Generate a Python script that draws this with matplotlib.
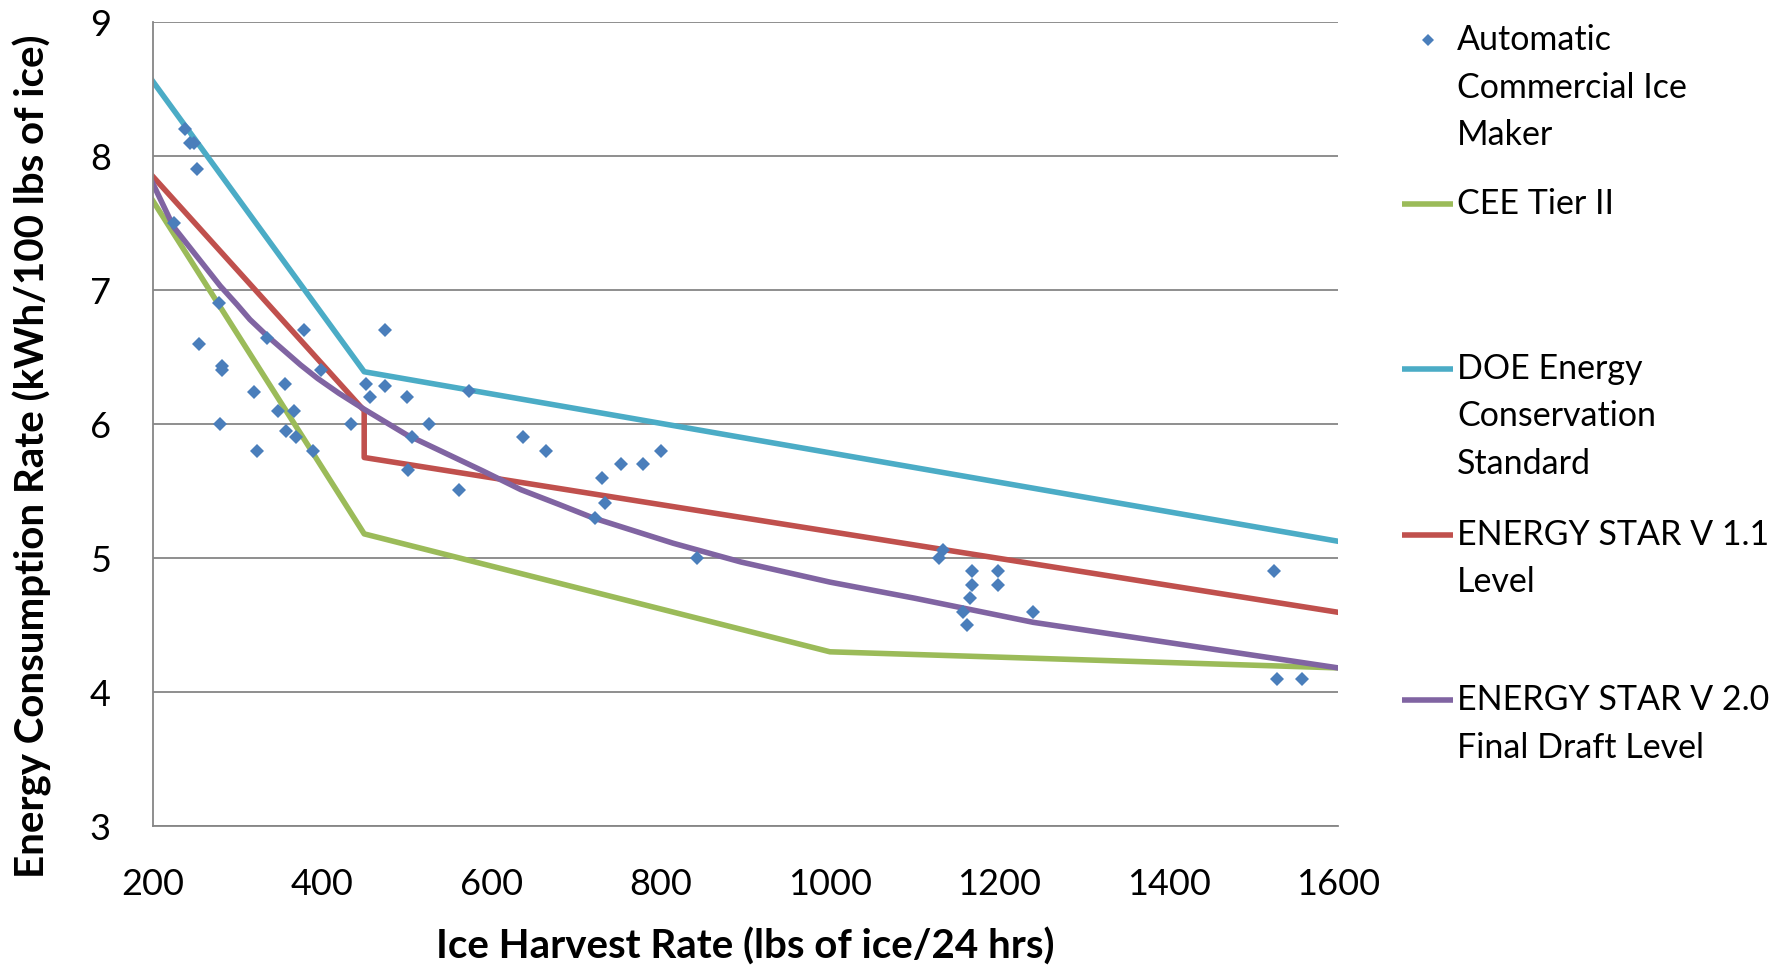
import matplotlib
matplotlib.use("Agg")
import matplotlib.pyplot as plt
from matplotlib.lines import Line2D

plt.rcParams['font.family'] = ['Lato', 'DejaVu Sans']

# puntos de maquinas de hielo (lbs/24h, kWh/100 lbs)
maq_x = [238, 244, 249, 253, 225, 278, 255, 282, 282, 280, 320, 323, 335, 356,
         348, 367, 358, 370, 379, 390, 399, 434, 452, 457, 475, 475, 500, 506,
         502, 527, 562, 574, 638, 665, 731, 734, 723, 753, 779, 800, 843,
         1129, 1134, 1168, 1168, 1198, 1198, 1165, 1157, 1162, 1240, 1525, 1528, 1558]
maq_y = [8.2, 8.1, 8.1, 7.9, 7.5, 6.9, 6.6, 6.43, 6.4, 6.0, 6.24, 5.8, 6.64, 6.3,
         6.1, 6.1, 5.95, 5.9, 6.7, 5.8, 6.4, 6.0, 6.3, 6.2, 6.7, 6.28, 6.2, 5.9,
         5.66, 6.0, 5.51, 6.25, 5.9, 5.8, 5.6, 5.41, 5.3, 5.7, 5.7, 5.8, 5.0,
         5.0, 5.06, 4.9, 4.8, 4.9, 4.8, 4.7, 4.6, 4.5, 4.6, 4.9, 4.1, 4.1]

# CEE Tier II
cee_x = [200, 450, 1000, 1600]
cee_y = [7.67, 5.18, 4.30, 4.18]

# DOE
doe_x = [200, 450, 1600]
doe_y = [8.56, 6.39, 5.125]

# ENERGY STAR V 1.1
es11_x = [200, 450, 450, 1600]
es11_y = [7.85, 6.10, 5.75, 4.595]

# ENERGY STAR V 2.0 (curva)
es20_x = [200, 225, 250, 265, 280, 300, 315, 335, 355, 375, 395, 420, 440, 450,
          500, 540, 590, 635, 680, 720, 770, 815, 895, 1000, 1100, 1240, 1600]
es20_y = [7.80, 7.47, 7.27, 7.15, 7.03, 6.89, 6.78, 6.66, 6.55, 6.44, 6.34, 6.23,
          6.15, 6.11, 5.92, 5.80, 5.65, 5.51, 5.40, 5.30, 5.20, 5.11, 4.97, 4.82,
          4.70, 4.52, 4.18]

xticks = [200, 400, 600, 800, 1000, 1200, 1400, 1600]
yticks = [3, 4, 5, 6, 7, 8, 9]

azul = '#4A7EBB'
verde = '#9BBB59'
cian = '#4BACC6'
rojo = '#C0504D'
morado = '#8064A2'
gris = '#868686'

W, H = 1780, 966
fig = plt.figure(figsize=(W / 100, H / 100), dpi=100)
ax = fig.add_axes([152.5 / W, 1 - 826 / H, (1338 - 152.5) / W, (826 - 22) / H])

grosor = 4.0
ax.plot(cee_x, cee_y, color=verde, lw=grosor, zorder=2)
ax.plot(doe_x, doe_y, color=cian, lw=grosor, zorder=2)
ax.plot(es11_x, es11_y, color=rojo, lw=grosor, zorder=2)
ax.plot(es20_x, es20_y, color=morado, lw=grosor, zorder=2)
ax.plot(maq_x, maq_y, ls='none', marker='D', ms=7, color=azul, mew=0, zorder=3)

ax.set_xlim(200, 1600)
ax.set_ylim(3, 9)
ax.set_xticks(xticks)
ax.set_yticks(yticks)
ax.tick_params(length=0, labelsize=26, colors='black')
ax.tick_params(axis='y', pad=30)
ax.tick_params(axis='x', pad=30)
ax.grid(axis='y', color=gris, lw=1.3)
ax.set_axisbelow(True)
for s in ['top', 'right']:
    ax.spines[s].set_visible(False)
for s in ['left', 'bottom']:
    ax.spines[s].set_color(gris)
    ax.spines[s].set_linewidth(1.3)

ax.set_xlabel('Ice Harvest Rate (lbs of ice/24 hrs)', fontsize=29, fontweight='bold', va='center')
ax.xaxis.set_label_coords(0.5, -0.150)
ax.set_ylabel('Energy Consumption Rate (kWh/100 lbs of ice)', fontsize=29, fontweight='bold', va='center')
ax.yaxis.set_label_coords(-0.1016, 0.46)

# leyenda a mano (como la de Excel)
entradas = [
    (['Automatic', 'Commercial Ice', 'Maker'], None, 40),
    (['CEE Tier II'], verde, 204),
    (['DOE Energy', 'Conservation', 'Standard'], cian, 369),
    (['ENERGY STAR V 1.1', 'Level'], rojo, 535),
    (['ENERGY STAR V 2.0', 'Final Draft Level'], morado, 700),
]
for lineas, color, y0 in entradas:
    yf = 1 - y0 / H
    if color is None:
        fig.add_artist(Line2D([1428 / W], [yf], ls='none', marker='D', ms=6.5,
                              color=azul, mew=0, transform=fig.transFigure))
    else:
        fig.add_artist(Line2D([1402 / W, 1453 / W], [yf, yf], color=color, lw=grosor,
                              solid_capstyle='butt', transform=fig.transFigure))
    for i, t in enumerate(lineas):
        fig.text(1457 / W, 1 - (y0 + i * 47.5) / H, t, fontsize=24.5, va='center', ha='left')

fig.savefig('out.png', dpi=100)
